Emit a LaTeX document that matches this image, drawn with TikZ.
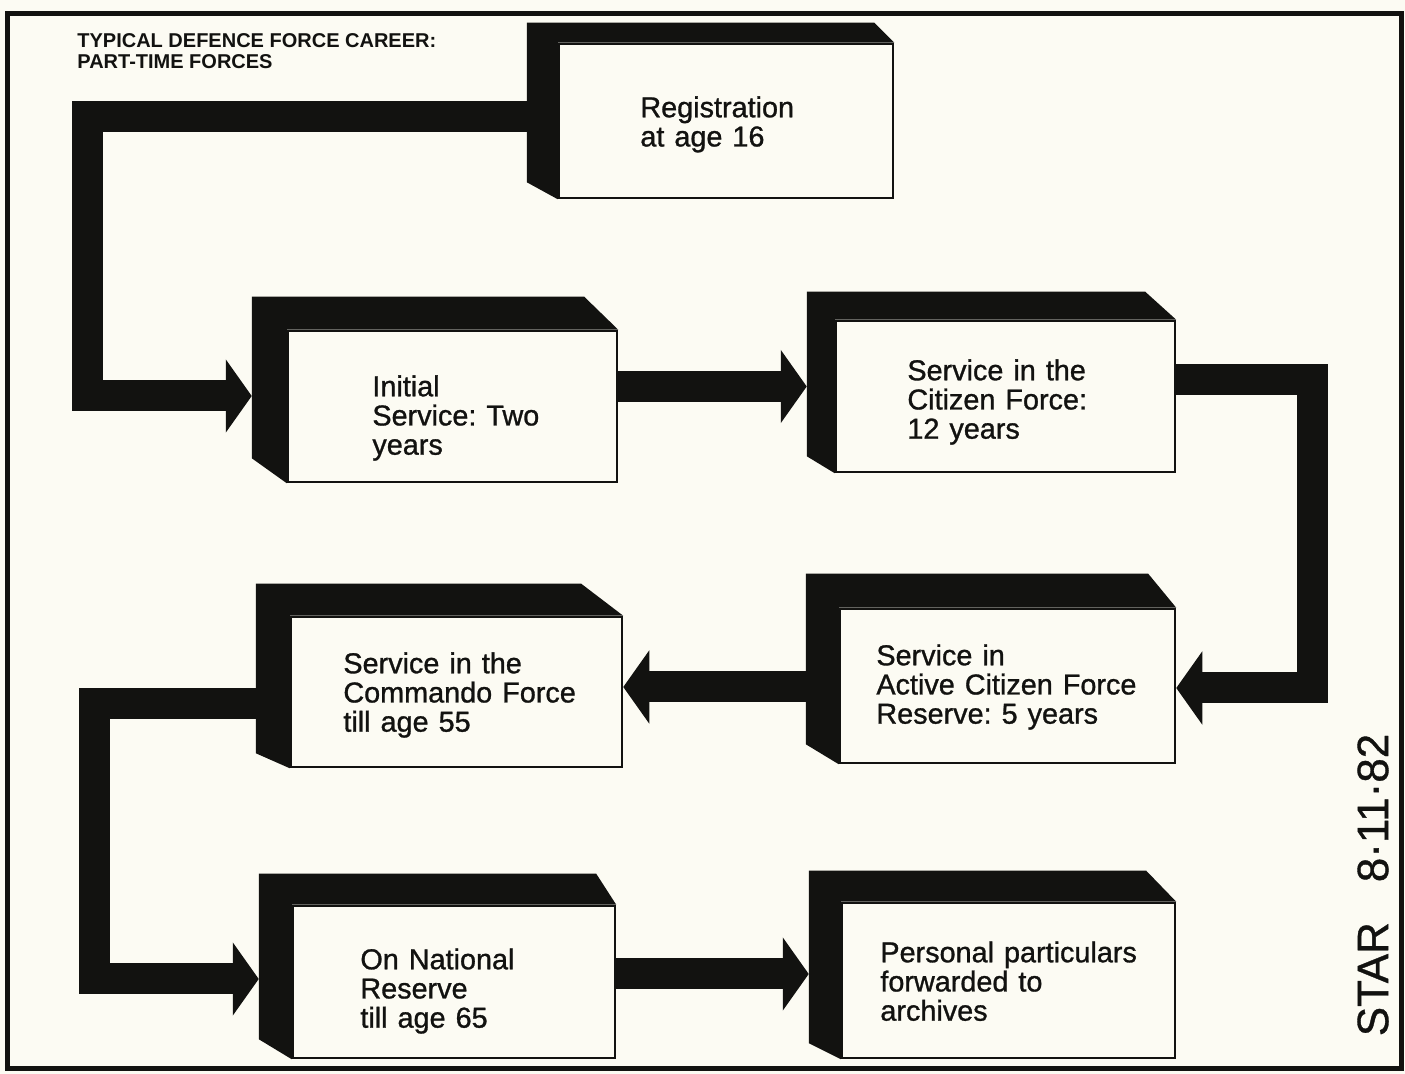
\documentclass[tikz,border=0pt]{standalone}
\usepackage{fontspec}
\setmainfont{Liberation Sans}
\newfontfamily\boxfont{Liberation Sans}[FakeBold=1.0, WordSpace=1.25]
\newfontfamily\handfont{Liberation Sans}[FakeBold=0.8]
\usetikzlibrary{arrows.meta,calc}
\definecolor{paper}{RGB}{252,251,243}
\definecolor{ink}{RGB}{18,18,16}
\newcommand\depthface[5]{%
  \fill[ink] ($(#1.north west)+(-#2,-#3)$) -- ($(#1.north east)+(-#4,-#3)$)
    -- (#1.north east) -- (#1.north west) -- (#1.south west)
    -- ($(#1.south west)+(-#2,-#5)$) -- cycle;
  \coordinate (#1L) at ($(#1.west)+(-#2,0)$);}
\frenchspacing
\begin{document}
\begin{tikzpicture}[x=0.5pt,y=-0.5pt,
  boxface/.style={draw=ink, line width=1.25pt, fill=paper, inner sep=0pt},
  lbl/.style={anchor=north west, inner sep=0pt, align=left, text=ink,
    font=\boxfont\fontsize{14.4pt}{14.6pt}\selectfont},
  conn/.style={draw=ink, line width=15.5pt, line join=miter,
    -{Triangle[length=13pt,width=36pt]}}
]
\useasboundingbox (0,0) rectangle (1405,1074);
\fill[paper] (0,0) rectangle (1405,1074);
\draw[ink, line width=2.5pt] (7,14) rectangle (1401,1069);

\node[anchor=north west, inner sep=0pt, align=left, text=ink,
  font=\bfseries\fontsize{10pt}{10.5pt}\selectfont] (title) at (77,33)
  {TYPICAL DEFENCE FORCE CAREER:\\PART-TIME FORCES};

% boxes (front faces)
\node[boxface, minimum width=167pt,   minimum height=77pt]   (b1) at (726,121) {};
\node[boxface, minimum width=164.5pt, minimum height=75.5pt] (b2) at (452.5,406.5) {};
\node[boxface, minimum width=169.5pt, minimum height=75.5pt] (b3) at (1005.5,396.5) {};
\node[boxface, minimum width=167.5pt, minimum height=77pt]   (b4) at (1007.5,686) {};
\node[boxface, minimum width=165.5pt, minimum height=75pt]   (b5) at (456.5,692) {};
\node[boxface, minimum width=161pt,   minimum height=76pt]   (b6) at (454,982) {};
\node[boxface, minimum width=166.5pt, minimum height=77.5pt] (b7) at (1008.5,980.5) {};

% black depth faces
\depthface{b1}{31}{20}{20}{17}
\depthface{b2}{35}{33}{34}{25}
\depthface{b3}{28}{28}{31}{17}
\depthface{b4}{33}{34}{28}{20}
\depthface{b5}{34}{32}{42}{15}
\depthface{b6}{33}{31}{20}{20}
\depthface{b7}{32}{31}{30}{16}

% labels
\node[lbl] (t1) at (640,96)  {Registration\\at age 16};
\node[lbl] (t2) at (372,375) {Initial\\Service: Two\\years};
\node[lbl] (t3) at (907,359) {Service in the\\Citizen Force:\\12 years};
\node[lbl] (t4) at (876,644) {Service in\\Active Citizen Force\\Reserve: 5 years};
\node[lbl] (t5) at (343,652) {Service in the\\Commando Force\\till age 55};
\node[lbl] (t6) at (360,948) {On National\\Reserve\\till age 65};
\node[lbl] (t7) at (880,941) {Personal particulars\\forwarded to\\archives};

% connectors
\draw[conn] ($(b1.west)+(-20,-4)$) -| ($(b2.west)+(-199,-10.5)$) -- ($(b2.west)+(-35,-10.5)$);
\draw[conn] ($(b2.east)+(0,-20)$) coordinate (c23) -- (c23 -| b3L);
\draw[conn] ($(b3.east)+(0,-16.5)$) -| ($(b4.east)+(136,2)$) -- ($(b4.east)+(0,2)$);
\draw[conn] ($(b4.west)+(-33,1)$) -- ($(b5.east)+(0,-5)$);
\draw[conn] ($(b5.west)+(-34,12)$) -| ($(b6.west)+(-197,-3)$) -- ($(b6.west)+(-33,-3)$);
\draw[conn] ($(b6.east)+(0,-8)$) coordinate (c67) -- (c67 -| b7L);

% handwritten stamp
\node[rotate=90, inner sep=0pt, text=ink, font=\handfont\fontsize{22pt}{22pt}\selectfont]
  (star) at (1373,885) {STAR\hspace{20pt}8·11·82};
\end{tikzpicture}
\end{document}
